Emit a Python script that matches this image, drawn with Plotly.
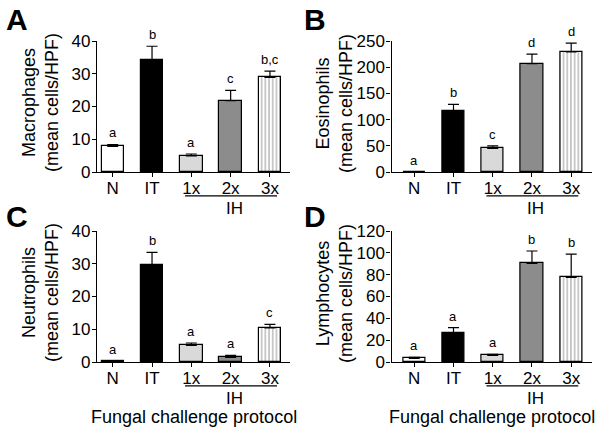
import plotly.graph_objects as go

groups = ['N', 'IT', '1x', '2x', '3x']

macro_mean = [7.8, 34.2, 4.9, 21.8, 28.9]
macro_err = [0.6, 4.2, 0.6, 3.1, 1.9]
macro_sig = ['a', 'b', 'a', 'c', 'b,c']

eos_mean = [0, 116, 45, 207, 229]
eos_err = [0, 13, 5, 18, 17]
eos_sig = ['a', 'b', 'c', 'd', 'd']

neut_mean = [0.2, 29.7, 5.1, 1.4, 10.4]
neut_err = [0.1, 3.8, 0.7, 0.6, 1.1]
neut_sig = ['a', 'b', 'a', 'a', 'c']

lymph_mean = [3.4, 26.6, 6.1, 90.4, 77.6]
lymph_err = [0.8, 4.9, 0.9, 11.3, 21.3]
lymph_sig = ['a', 'a', 'a', 'b', 'b']

bar_colors = ['white', 'black', '#d9d9d9', '#8c8c8c', 'white']
bar_patterns = ['', '', '', '', '|']

FONT = 'Arial, Liberation Sans, sans-serif'
W, H = 601, 434

# (letter, y title, means, errors, letters, y max, dtick, x range, x domain, y domain)
panels = [
    ('A', 'Macrophages', macro_mean, macro_err, macro_sig, 40, 10,
     [-0.4, 4.51], [97 / W, 290 / W], [1 - 172 / H, 1 - 41 / H]),
    ('B', 'Eosinophils', eos_mean, eos_err, eos_sig, 250, 50,
     [-0.58, 4.53], [391.5 / W, 592 / W], [1 - 172 / H, 1 - 41 / H]),
    ('C', 'Neutrophils', neut_mean, neut_err, neut_sig, 40, 10,
     [-0.4, 4.51], [97 / W, 290 / W], [1 - 362 / H, 1 - 231 / H]),
    ('D', 'Lymphocytes', lymph_mean, lymph_err, lymph_sig, 120, 20,
     [-0.58, 4.53], [391.5 / W, 592 / W], [1 - 362 / H, 1 - 231 / H]),
]

fig = go.Figure()
annotations = []
shapes = []

for i, (letter, title, means, errs, sig, ymax, dtick, xr, xd, yd) in enumerate(panels):
    n = '' if i == 0 else str(i + 1)
    xa, ya = 'x' + n, 'y' + n
    xs = list(range(len(groups)))

    fig.add_trace(go.Bar(
        x=xs, y=means, xaxis=xa, yaxis=ya, width=0.57,
        marker=dict(color=bar_colors, line=dict(color='black', width=1.2),
                    pattern=dict(shape=bar_patterns, fgcolor='#666', bgcolor='white',
                                 size=3.7, solidity=0.3)),
        error_y=dict(type='data', symmetric=False, array=errs,
                     arrayminus=[0] * len(errs), color='black', thickness=1.2, width=5.5),
        showlegend=False, hoverinfo='skip',
    ))

    axis_style = dict(showline=True, linecolor='black', linewidth=1.3, ticks='outside',
                      ticklen=4, tickwidth=1.3, tickcolor='black', showgrid=False,
                      zeroline=False, automargin=False,
                      tickfont=dict(family=FONT, size=17, color='black'))
    fig.layout['xaxis' + n] = dict(domain=xd, anchor=ya, range=xr, tickvals=xs,
                                   ticktext=groups, ticklabelstandoff=-4, **axis_style)
    fig.layout['yaxis' + n] = dict(domain=yd, anchor=xa, range=[0, ymax], dtick=dtick,
                                   ticklabelstandoff=-2, **axis_style)

    for j in xs:
        annotations.append(dict(x=j, y=means[j] + errs[j], xref=xa, yref=ya, text=sig[j],
                                showarrow=False, yanchor='bottom', yshift=2,
                                font=dict(family=FONT, size=13, color='black')))

    # IH bracket under 1x-3x
    shapes.append(dict(type='line', xref=xa, yref=ya + ' domain', x0=1.84, x1=4.18,
                       y0=-0.183, y1=-0.183, line=dict(color='black', width=1.2)))
    annotations.append(dict(x=3.1, y=-0.275, xref=xa, yref=ya + ' domain', text='IH',
                            showarrow=False, yanchor='middle',
                            font=dict(family=FONT, size=17, color='black')))

    # y title
    tx = 41 / W if i % 2 == 0 else 335 / W
    annotations.append(dict(x=tx, y=0.527, xref='paper', yref=ya + ' domain',
                            text=title + '<br>(mean cells/HPF)', textangle=-90,
                            showarrow=False, xanchor='center', yanchor='middle',
                            font=dict(family=FONT, size=18, color='black')))

    # panel letter
    lx = 4 / W if i % 2 == 0 else 302 / W
    ly = 1 - 1 / H if i < 2 else 1 - 198 / H
    annotations.append(dict(x=lx, y=ly, xref='paper', yref='paper', text='<b>' + letter + '</b>',
                            showarrow=False, xanchor='left', yanchor='top',
                            font=dict(family=FONT, size=30, color='black')))

    if i >= 2:
        annotations.append(dict(x=0.5, y=-0.42, xref=xa + ' domain', yref=ya + ' domain',
                                text='Fungal challenge protocol', showarrow=False,
                                yanchor='middle',
                                font=dict(family=FONT, size=18, color='black')))

fig.update_layout(
    width=W, height=H, margin=dict(l=0, r=0, t=0, b=0),
    paper_bgcolor='white', plot_bgcolor='white', hovermode=False,
    annotations=annotations, shapes=shapes, bargap=0,
)

fig.write_html('out.html', config={'displayModeBar': False},
               post_script="document.body.style.margin = '0';")
